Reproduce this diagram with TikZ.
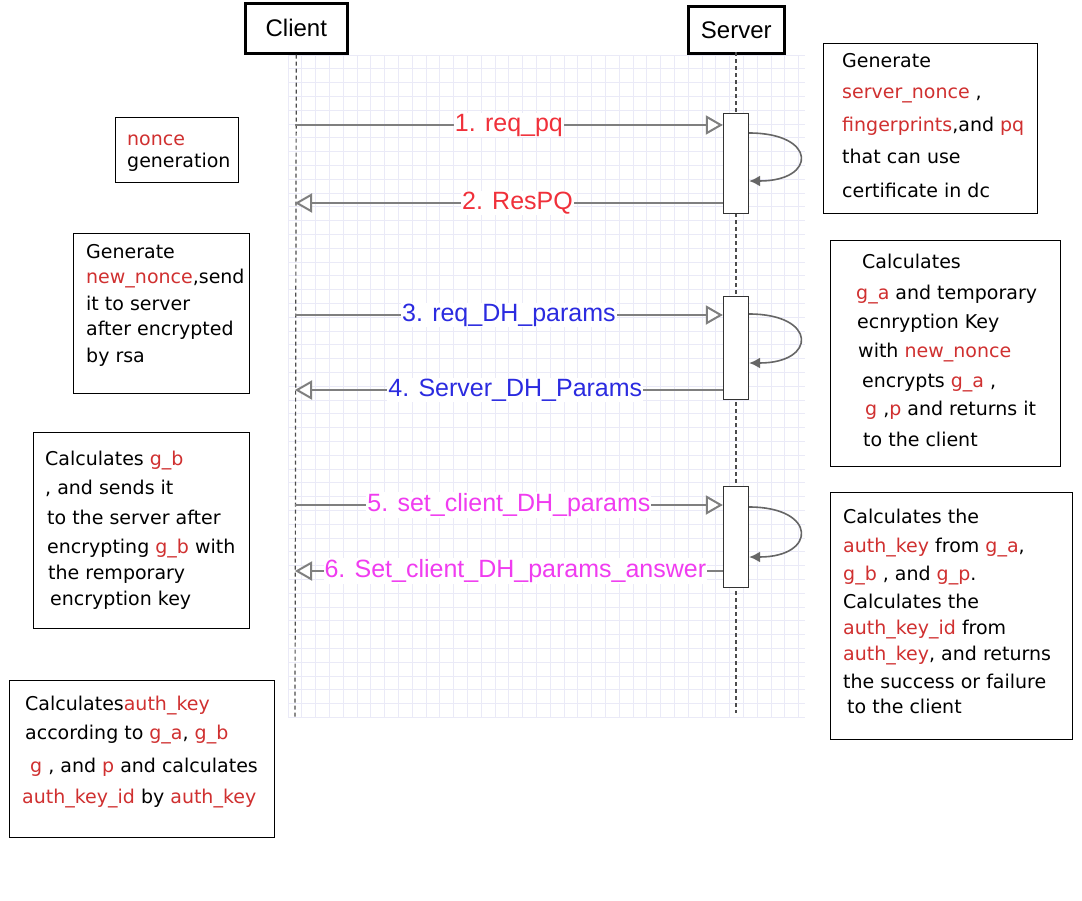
\documentclass[tikz,border=0pt]{standalone}
\usepackage{fontspec}
\setmainfont{Liberation Sans}
\newfontfamily\handfont{DejaVu Sans}
\usetikzlibrary{arrows.meta,calc}
\definecolor{gridc}{HTML}{EAEAF7}
\definecolor{msgc}{HTML}{7F7F7F}
\definecolor{lred}{HTML}{F0303A}
\definecolor{lblue}{HTML}{2B2BE0}
\definecolor{lmag}{HTML}{F03CF0}
\definecolor{hred}{HTML}{D03030}
\newcommand{\rd}[1]{\textcolor{hred}{#1}}
\tikzset{
  hdr/.style={draw=black, line width=2.6pt, fill=white, anchor=north west, inner sep=0pt, font=\fontsize{24}{28}\selectfont},
  life/.style={draw=black!70, line width=1.2pt, dash pattern=on 4pt off 3pt},
  actbox/.style={draw=black!80, line width=1.3pt, fill=white, anchor=north, minimum width=25pt, minimum height=100pt, inner sep=0pt},
  msg/.style={draw=msgc, line width=2pt, -{Triangle[fill=white, length=17pt, width=19pt]}},
  lbl/.style={fill=white, inner sep=1pt, font=\fontsize{25}{30}\selectfont},
  selfloop/.style={draw=black!60, line width=1.6pt, -{Latex[length=11pt, width=11pt]}},
  notebox/.style={draw=black, line width=1.3pt, anchor=north west, inner sep=0pt},
  hw/.style={anchor=base west, inner sep=0pt, font=\handfont\fontsize{19}{23}\selectfont},
  gridline/.style={draw=gridc, line width=0.8pt}
}
\begin{document}
\begin{tikzpicture}[x=1pt, y=-1pt]
\useasboundingbox (0,0) rectangle (1082,900);
\fill[white] (0,0) rectangle (1082,900);
% grid
\foreach \i in {0,...,37} { \draw[gridline] (288+\i*13.8,55) -- (288+\i*13.8,718); }
\foreach \j in {0,...,48} { \draw[gridline] (288,55+\j*13.8) -- (805,55+\j*13.8); }
% headers
\node[hdr, minimum width=102pt, minimum height=50pt] (client) at (244,2) {Client};
\node[hdr, minimum width=96pt, minimum height=47pt] (server) at (687,5) {Server};
% lifelines
\coordinate (cend) at (295,718);
\coordinate (stop) at (736,52);
\coordinate (send) at (736,713);
\draw[life] (client.south) -- (cend);
\draw[life] (stop) -- (send);
% activations
\node[actbox] (a1) at (736,113) {};
\node[actbox, minimum height=103pt] (a2) at (736,296) {};
\node[actbox, minimum height=101pt] (a3) at (736,486) {};
% messages
\coordinate (m1) at (295,125);
\coordinate (m2) at (295,203);
\coordinate (m3) at (295,315);
\coordinate (m4) at (295,390);
\coordinate (m5) at (295,505);
\coordinate (m6) at (295,571);
\draw[msg] (m1) -- node[lbl, text=lred, pos=0.5] (l1) {1. req\_pq} (m1 -| a1.west);
\draw[msg] (m2 -| a1.west) -- node[lbl, text=lred, pos=0.48] (l2) {2. ResPQ} (m2);
\draw[msg] (m3) -- node[lbl, text=lblue, pos=0.5] (l3) {3. req\_DH\_params} (m3 -| a2.west);
\draw[msg] (m4 -| a2.west) -- node[lbl, text=lblue, pos=0.485] (l4) {4. Server\_DH\_Params} (m4);
\draw[msg] (m5) -- node[lbl, text=lmag, pos=0.5] (l5) {5. set\_client\_DH\_params} (m5 -| a3.west);
\draw[msg] (m6 -| a3.west) -- node[lbl, text=lmag, pos=0.485] (l6) {6. Set\_client\_DH\_params\_answer} (m6);
% self loops
\draw[selfloop] ([yshift=-20pt]a1.north east) .. controls +(68pt,0pt) and +(68pt,0pt) .. ([yshift=-68pt]a1.north east);
\draw[selfloop] ([yshift=-18pt]a2.north east) .. controls +(68pt,0pt) and +(68pt,0pt) .. ([yshift=-67pt]a2.north east);
\draw[selfloop] ([yshift=-21pt]a3.north east) .. controls +(68pt,0pt) and +(68pt,0pt) .. ([yshift=-71pt]a3.north east);
% note boxes
\node[notebox, minimum width=123pt, minimum height=65pt] (n1) at (115,117) {};
\node[hw] (n1a) at (127,145) {\rd{nonce}};
\node[hw] (n1b) at (127,167) {generation};

\node[notebox, minimum width=176pt, minimum height=160pt] (n2) at (73,233) {};
\node[hw] (n2a) at (86,258) {Generate};
\node[hw] (n2b) at (86,283) {\rd{new\_nonce},send};
\node[hw] (n2c) at (86,310) {it to server};
\node[hw] (n2d) at (86,335) {after encrypted};
\node[hw] (n2e) at (86,362) {by rsa};

\node[notebox, minimum width=214pt, minimum height=170pt] (n3) at (823,43) {};
\node[hw] (n3a) at (842,67) {Generate};
\node[hw] (n3b) at (842,98) {\rd{server\_nonce} ,};
\node[hw] (n3c) at (842,131) {\rd{fingerprints},and \rd{pq}};
\node[hw] (n3d) at (842,163) {that can use};
\node[hw] (n3e) at (842,197) {certificate in dc};

\node[notebox, minimum width=230pt, minimum height=226pt] (n4) at (830,240) {};
\node[hw] (n4a) at (862,268) {Calculates};
\node[hw] (n4b) at (856,299) {\rd{g\_a} and temporary};
\node[hw] (n4c) at (857,328) {ecnryption Key};
\node[hw] (n4d) at (858,357) {with \rd{new\_nonce}};
\node[hw] (n4e) at (862,387) {encrypts \rd{g\_a} ,};
\node[hw] (n4f) at (865,415) {\rd{g} ,\rd{p} and returns it};
\node[hw] (n4g) at (863,446) {to the client};

\node[notebox, minimum width=216pt, minimum height=196pt] (n5) at (33,432) {};
\node[hw] (n5a) at (45,465) {Calculates \rd{g\_b}};
\node[hw] (n5b) at (45,494) {, and sends it};
\node[hw] (n5c) at (47,524) {to the server after};
\node[hw] (n5d) at (47,553) {encrypting \rd{g\_b} with};
\node[hw] (n5e) at (48,579) {the remporary};
\node[hw] (n5f) at (50,605) {encryption key};

\node[notebox, minimum width=265pt, minimum height=157pt] (n6) at (9,680) {};
\node[hw] (n6a) at (25,710) {Calculates\rd{auth\_key}};
\node[hw] (n6b) at (25,739) {according to \rd{g\_a}, \rd{g\_b}};
\node[hw] (n6c) at (30,772) {\rd{g} , and \rd{p} and calculates};
\node[hw] (n6d) at (22,803) {\rd{auth\_key\_id} by \rd{auth\_key}};

\node[notebox, minimum width=242pt, minimum height=247pt] (n7) at (830,492) {};
\node[hw] (n7a) at (843,523) {Calculates the};
\node[hw] (n7b) at (843,552) {\rd{auth\_key} from \rd{g\_a},};
\node[hw] (n7c) at (843,580) {\rd{g\_b} , and \rd{g\_p}.};
\node[hw] (n7d) at (843,608) {Calculates the};
\node[hw] (n7e) at (843,634) {\rd{auth\_key\_id} from};
\node[hw] (n7f) at (843,660) {\rd{auth\_key}, and returns};
\node[hw] (n7g) at (843,688) {the success or failure};
\node[hw] (n7h) at (847,713) {to the client};
\end{tikzpicture}
\end{document}
